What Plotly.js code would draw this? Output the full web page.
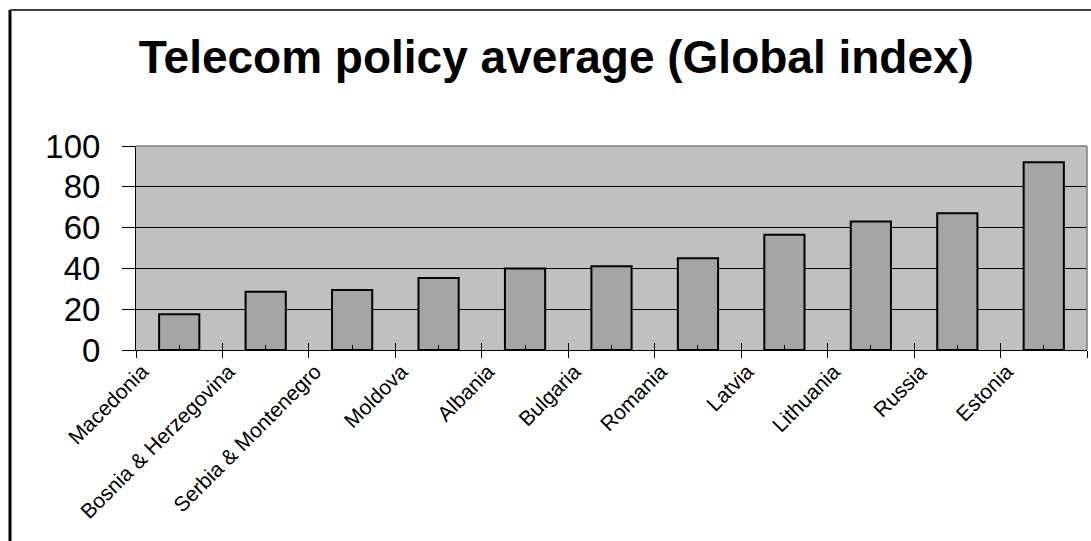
<!DOCTYPE html>
<html>
<head>
<meta charset="utf-8">
<script src="https://cdn.plot.ly/plotly-3.0.1.min.js"></script>
<style>
html,body{margin:0;padding:0;background:#fff;}
#chart{width:1091px;height:541px;}
</style>
</head>
<body>
<div id="chart"></div>
<script>
const countries = ["Macedonia","Bosnia & Herzegovina","Serbia & Montenegro","Moldova","Albania","Bulgaria","Romania","Latvia","Lithuania","Russia","Estonia"];
const policyIndex = [17.5, 28.5, 29.4, 35.3, 40, 41, 45, 56.5, 63, 67, 92];
const yTicks = [0, 20, 40, 60, 80, 100];
const chartTitle = "Telecom policy average (Global index)";

const FONT = "Arial, 'Liberation Sans', sans-serif";
const n = countries.length;
const xr = [-0.5, n - 0.5];

const traces = [
  {
    type: "bar", x: countries, y: policyIndex,
    marker: {color: "#A5A5A5", line: {color: "#000000", width: 2}},
    hoverinfo: "x+y", xaxis: "x", yaxis: "y"
  },
  {
    type: "scatter", mode: "markers", x: countries, y: policyIndex,
    marker: {opacity: 0}, hoverinfo: "skip", showlegend: false, xaxis: "x2", yaxis: "y"
  },
  {
    type: "scatter", mode: "markers", x: countries, y: policyIndex,
    marker: {opacity: 0}, hoverinfo: "skip", showlegend: false, xaxis: "x3", yaxis: "y"
  }
];

const layout = {
  width: 1091, height: 541,
  margin: {l: 136, r: 4, t: 146, b: 191, pad: 0},
  paper_bgcolor: "#FFFFFF",
  plot_bgcolor: "#C0C0C0",
  showlegend: false,
  bargap: 0.535,
  font: {family: FONT, color: "#000000"},
  title: {
    text: "<b>" + chartTitle + "</b>",
    font: {family: FONT, size: 46, color: "#000000"},
    xref: "container", x: 0.51, xanchor: "center",
    yref: "container", y: 0.895, yanchor: "middle"
  },
  xaxis: {
    type: "category", categoryorder: "array", categoryarray: countries,
    range: xr, tickson: "boundaries",
    ticks: "outside", ticklen: 7, tickwidth: 1, tickcolor: "#000000",
    showline: true, linecolor: "#000000", linewidth: 1,
    showgrid: false, zeroline: false,
    tickangle: -45, ticklabelshift: -37,
    tickfont: {family: FONT, size: 21, color: "#000000"},
    fixedrange: true
  },
  xaxis2: {
    type: "category", categoryorder: "array", categoryarray: countries,
    overlaying: "x", anchor: "y", range: xr, tickson: "boundaries",
    ticks: "inside", ticklen: 7, tickwidth: 1, tickcolor: "#000000",
    showticklabels: false, showline: false, showgrid: false, zeroline: false
  },
  xaxis3: {
    type: "category", categoryorder: "array", categoryarray: countries,
    overlaying: "x", anchor: "y", range: xr,
    ticks: "inside", ticklen: 5, tickwidth: 1, tickcolor: "#000000",
    showticklabels: false, showline: false, showgrid: false, zeroline: false
  },
  yaxis: {
    range: [0, 100], tickmode: "array", tickvals: yTicks,
    ticks: "outside", ticklen: 13, tickwidth: 1, tickcolor: "#000000",
    showline: true, linecolor: "#000000", linewidth: 1,
    showgrid: true, gridcolor: "#000000", gridwidth: 1,
    zeroline: false,
    ticklabelstandoff: 15,
    tickfont: {family: FONT, size: 33, color: "#000000"},
    fixedrange: true
  },
  shapes: [
    {type: "line", xref: "paper", yref: "paper", x0: 0, x1: 1, y0: 1, y1: 1, line: {color: "#808080", width: 1.5}},
    {type: "line", xref: "paper", yref: "paper", x0: 1, x1: 1, y0: 0, y1: 1, line: {color: "#808080", width: 1.5}},
    {type: "line", xref: "paper", yref: "paper", x0: -0.1325, x1: -0.1325, y0: -1.0, y1: 1.667, line: {color: "#000000", width: 3}},
    {type: "line", xref: "paper", yref: "paper", x0: -0.1325, x1: 1.05, y0: 1.667, y1: 1.667, line: {color: "#404040", width: 2}}
  ]
};

Plotly.newPlot("chart", traces, layout, {displayModeBar: false, staticPlot: true});
</script>
</body>
</html>
